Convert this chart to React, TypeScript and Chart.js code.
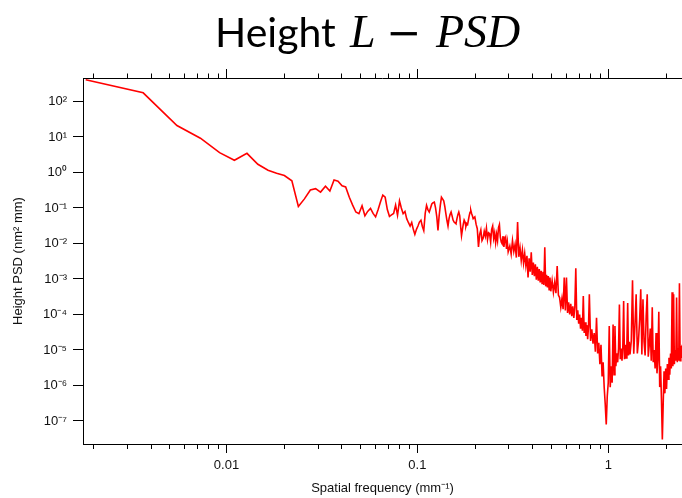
import { useEffect, useRef } from 'react';
import { Chart, registerables } from 'chart.js';

Chart.register(...registerables);

// ---- Data (spatial frequency in mm^-1, PSD in nm^2 mm) ----
const lowFreq = [0.00183, 0.00366, 0.0055, 0.0073, 0.0092, 0.011, 0.0128, 0.0146, 0.0165, 0.0183, 0.0201, 0.022, 0.0238, 0.0256, 0.0275, 0.0293, 0.0311, 0.033, 0.0348, 0.0366, 0.0384, 0.0403, 0.0421, 0.044, 0.0458, 0.0476, 0.0494, 0.0513, 0.0531, 0.0549, 0.0568, 0.0586, 0.0604, 0.0623, 0.0641, 0.0659, 0.0678, 0.0696, 0.0714, 0.0732, 0.0751, 0.0769, 0.0787, 0.0806, 0.0824, 0.0842, 0.0861, 0.0879, 0.0897, 0.0916, 0.0934, 0.0952, 0.097, 0.0989, 0.1007, 0.1025, 0.1044, 0.1062, 0.108, 0.1099, 0.1117, 0.1135, 0.1154, 0.1172, 0.119, 0.1209, 0.1227, 0.1245, 0.1264, 0.1282, 0.13, 0.1319, 0.1337, 0.1355, 0.1374, 0.1392, 0.141, 0.1428, 0.1447, 0.1465, 0.1483, 0.1502, 0.152, 0.1538, 0.1557, 0.1575, 0.1593, 0.1612, 0.163, 0.1648, 0.1667, 0.1685, 0.1703, 0.1722, 0.174, 0.1758, 0.1777, 0.1795, 0.1813, 0.1832, 0.185, 0.1868, 0.1887, 0.1905, 0.1923, 0.1942, 0.196];
const lowPsd = [410, 175, 21, 9.2, 3.6, 2.2, 3.45, 1.7, 1.15, 0.95, 0.82, 0.58, 0.11, 0.18, 0.32, 0.35, 0.28, 0.41, 0.30, 0.61, 0.57, 0.42, 0.39, 0.2, 0.12, 0.077, 0.069, 0.115, 0.06, 0.08, 0.097, 0.07, 0.056, 0.09, 0.15, 0.23, 0.2, 0.09, 0.058, 0.064, 0.07, 0.12, 0.062, 0.158, 0.1, 0.069, 0.08, 0.05, 0.039, 0.031, 0.039, 0.025, 0.018, 0.025, 0.031, 0.04, 0.045, 0.03, 0.023, 0.07, 0.118, 0.09, 0.077, 0.1, 0.13, 0.14, 0.146, 0.1, 0.056, 0.0234, 0.06, 0.12, 0.2, 0.18, 0.16, 0.11, 0.069, 0.045, 0.031, 0.05, 0.065, 0.077, 0.06, 0.0455, 0.04, 0.038, 0.036, 0.05, 0.065, 0.077, 0.06, 0.03, 0.0167, 0.025, 0.035, 0.0455, 0.04, 0.03, 0.036, 0.034, 0.045, 0.06, 0.075, 0.0857, 0.07, 0.06, 0.05];

const midFreq = [0.200, 0.203, 0.206, 0.209, 0.212, 0.215, 0.218, 0.221, 0.224, 0.227, 0.230, 0.233, 0.236, 0.239, 0.242, 0.245, 0.248, 0.251, 0.254, 0.257, 0.260, 0.263, 0.266, 0.269, 0.272, 0.275, 0.278, 0.281, 0.284, 0.287, 0.290, 0.293, 0.296, 0.299,
  0.305, 0.310, 0.315, 0.320, 0.325, 0.330, 0.335, 0.340, 0.345, 0.350, 0.355, 0.360, 0.365, 0.370, 0.375, 0.380, 0.385, 0.390, 0.395, 0.400, 0.405, 0.410, 0.415, 0.420, 0.425, 0.430, 0.435, 0.440, 0.445, 0.450, 0.455, 0.460, 0.465, 0.470, 0.475, 0.480, 0.485, 0.490, 0.495, 0.500];
const midPsd = [0.056, 0.035, 0.026, 0.008, 0.018, 0.024, 0.012, 0.014, 0.022, 0.016, 0.027, 0.013, 0.02, 0.019, 0.011, 0.025, 0.031, 0.014, 0.02, 0.0105, 0.018, 0.012, 0.028, 0.034, 0.015, 0.011, 0.0098, 0.016, 0.008, 0.013, 0.0149, 0.007, 0.011, 0.0058,
  0.0085, 0.005, 0.012, 0.006, 0.0095, 0.004, 0.04, 0.0042, 0.0075, 0.0033, 0.0065, 0.0028, 0.0052, 0.0024, 0.0045, 0.0011, 0.0038, 0.0016, 0.0056, 0.0013, 0.0029, 0.0012, 0.0026, 0.00095, 0.0022, 0.0009, 0.0019, 0.0008, 0.0017, 0.00075, 0.0016, 0.00068, 0.0078, 0.00062, 0.0013, 0.00058, 0.0012, 0.0005, 0.0011, 0.00045];

const highFreq = [0.508, 0.516, 0.524, 0.532, 0.540, 0.548, 0.556, 0.564, 0.572, 0.580, 0.588, 0.596, 0.604, 0.612, 0.620, 0.628, 0.636, 0.644, 0.652, 0.660, 0.668, 0.676, 0.684, 0.692, 0.700, 0.708, 0.716, 0.724, 0.732, 0.740, 0.748, 0.756, 0.764, 0.772, 0.780, 0.788, 0.796,
  0.808, 0.820, 0.832, 0.844, 0.856, 0.868, 0.880, 0.892, 0.904, 0.916, 0.928, 0.940, 0.952, 0.964, 0.976, 0.988, 1.000, 1.012, 1.024, 1.036, 1.048, 1.060, 1.072, 1.084, 1.096, 1.108, 1.120, 1.132, 1.144, 1.156, 1.168, 1.180, 1.192, 1.204, 1.216, 1.228, 1.240, 1.252, 1.264, 1.276, 1.288, 1.300,
  1.32, 1.34, 1.36, 1.38, 1.40, 1.42, 1.44, 1.46, 1.48, 1.50, 1.52, 1.54, 1.56, 1.58, 1.60, 1.62, 1.64, 1.66, 1.68, 1.70, 1.72, 1.74, 1.76, 1.78, 1.80, 1.82, 1.84, 1.86, 1.88, 1.90, 1.92, 1.94, 1.96, 1.98, 2.00, 2.02, 2.04, 2.06, 2.08, 2.10, 2.12, 2.14, 2.16, 2.18, 2.20, 2.22, 2.24, 2.26, 2.28, 2.30, 2.32, 2.34, 2.36, 2.38, 2.40, 2.42, 2.44];
const highPsd = [0.0009, 0.00042, 0.0008, 0.0004, 0.0023, 0.00035, 0.0003, 0.00016, 0.00028, 0.00014, 0.0011, 0.00013, 0.0011, 0.00011, 0.00022, 0.0001, 0.0002, 0.00009, 0.00017, 0.00008, 0.00016, 0.002, 0.00007, 0.00013, 0.000055, 0.0001, 0.00004, 0.00008, 0.000035, 0.00033, 0.00003, 0.00006, 0.000025, 0.00005, 0.00002, 0.000045, 0.00037,
  0.000018, 0.000038, 0.000015, 0.00003, 0.000009, 0.000081, 0.000008, 0.000016, 0.000004, 0.000014, 0.0000018, 0.0000045, 0.0000009, 0.0000003, 0.00000008, 0.0000005, 0.0000012, 0.000047, 0.0000009, 0.0000035, 0.0000012, 0.000052, 0.000002, 0.000047, 0.0000035, 0.000008, 0.0000045, 0.000011, 0.00019, 0.0000055, 0.000011, 0.000005, 0.000012, 0.00024, 0.0000055, 0.000014, 0.000006, 0.000015, 0.00021, 0.000007, 0.000017, 0.0000075,
  0.000018, 0.00092, 0.0000078, 0.00005, 0.00037, 0.000008, 0.000018, 0.00007, 0.00051, 0.0000075, 0.00027, 0.000017, 0.000007, 0.00009, 0.00037, 0.0000065, 0.000014, 0.00004, 0.000005, 0.00016, 0.0000045, 0.00001, 0.000003, 0.00003, 0.0000022, 0.000006, 0.00012, 0.0000009, 0.0000035, 0.0000004, 0.00000003, 0.0000003, 0.0000025, 0.0000006, 0.000003, 0.0000008, 0.000004, 0.0000015, 0.000006, 0.000002, 0.000008, 0.000003, 0.00042, 0.0000035, 0.00037, 0.000004, 0.00001, 0.000005, 0.0003, 0.0000045, 0.000011, 0.000005, 0.00076, 0.000005, 0.000013, 0.000006, 0.000014];

// ---- Axes / labels ----
const xTickValues = [0.002, 0.003, 0.004, 0.005, 0.006, 0.007, 0.008, 0.009, 0.01, 0.02, 0.03, 0.04, 0.05, 0.06, 0.07, 0.08, 0.09, 0.1, 0.2, 0.3, 0.4, 0.5, 0.6, 0.7, 0.8, 0.9, 1, 2];
const xMajorTicks = [0.01, 0.1, 1];
const xTickLabels = ['0.01', '0.1', '1'];
const yTickValues = [1e-7, 1e-6, 1e-5, 1e-4, 1e-3, 1e-2, 1e-1, 1, 10, 100];
const yTickLabels = ['10⁻⁷', '10⁻⁶', '10⁻⁵', '10⁻⁴', '10⁻³', '10⁻²', '10⁻¹', '10⁰', '10¹', '10²'];
const xAxisTitle = 'Spatial frequency (mm⁻¹)';
const yAxisTitle = 'Height PSD (nm² mm)';
const titleWord = 'Height';
const titleMath = ['L', '−', 'PSD'];

const isMajor = (v: number) => xMajorTicks.findIndex((m) => Math.abs(m - v) / m < 1e-6);

const decorPlugin = {
  id: 'decor',
  afterDraw(chart: any) {
    const { ctx, chartArea, scales } = chart;
    const xs = scales.x;
    ctx.save();
    ctx.strokeStyle = '#000';
    ctx.lineWidth = 1;
    ctx.beginPath();
    ctx.moveTo(chartArea.left, Math.round(chartArea.top) + 0.5);
    ctx.lineTo(chartArea.right, Math.round(chartArea.top) + 0.5);
    for (const v of xTickValues) {
      const px = Math.round(xs.getPixelForValue(v)) + 0.5;
      const major = isMajor(v) >= 0;
      ctx.moveTo(px, chartArea.bottom);
      ctx.lineTo(px, chartArea.bottom + (major ? 9 : 5));
      ctx.moveTo(px, chartArea.top);
      ctx.lineTo(px, chartArea.top - (major ? 9 : 4.5));
    }
    ctx.stroke();

    // Title: "Height L − PSD"
    ctx.fillStyle = '#000';
    ctx.textBaseline = 'alphabetic';
    ctx.textAlign = 'left';
    ctx.font = '41px Lato, "Open Sans", sans-serif';
    ctx.fillText(titleWord, 215, 47);
    ctx.font = 'italic 46px "Liberation Serif", "DejaVu Serif", serif';
    ctx.fillText(titleMath[0], 350, 47);
    ctx.font = '42px "DejaVu Serif", serif';
    ctx.fillText(titleMath[1], 386, 47);
    ctx.font = 'italic 46px "Liberation Serif", "DejaVu Serif", serif';
    ctx.fillText(titleMath[2], 436, 47);
    ctx.restore();
  },
};

export default function App() {
  const canvasRef = useRef<HTMLCanvasElement | null>(null);

  useEffect(() => {
    const canvas = canvasRef.current;
    if (!canvas) return;
    const allFreq = [...lowFreq, ...midFreq, ...highFreq];
    const allPsd = [...lowPsd, ...midPsd, ...highPsd];
    const n = Math.min(allFreq.length, allPsd.length);
    const points = [] as { x: number; y: number }[];
    for (let i = 0; i < n; i++) points.push({ x: allFreq[i], y: allPsd[i] });

    Chart.defaults.font.family = '"Liberation Sans", Arial, sans-serif';
    Chart.defaults.color = '#111';

    const chart = new Chart(canvas, {
      type: 'line',
      data: {
        datasets: [
          {
            data: points,
            borderColor: '#ff0000',
            borderWidth: 1.6,
            pointRadius: 0,
            tension: 0,
            fill: false,
          },
        ],
      },
      options: {
        animation: false,
        responsive: false,
        devicePixelRatio: 1,
        layout: { padding: { top: 78, right: 0, bottom: 0, left: 0 } },
        plugins: { legend: { display: false }, tooltip: { enabled: false }, title: { display: false } },
        scales: {
          x: {
            type: 'logarithmic',
            position: 'bottom',
            min: 0.001771,
            max: 2.434,
            bounds: 'data',
            afterBuildTicks: (scale: any) => {
              scale.ticks = xTickValues.map((v) => ({ value: v }));
            },
            afterFit: (scale: any) => {
              scale.height = 54;
            },
            grid: { display: true, drawOnChartArea: false, drawTicks: true, tickLength: 9, color: 'rgba(0,0,0,0)' },
            border: { display: true, color: '#000', width: 1 },
            ticks: {
              autoSkip: false,
              maxRotation: 0,
              minRotation: 0,
              padding: 5,
              font: { size: 13 },
              color: '#111',
              callback: (v: any) => {
                const i = isMajor(Number(v));
                return i >= 0 ? xTickLabels[i] : '';
              },
            },
            title: { display: true, text: xAxisTitle, font: { size: 13 }, color: '#111', padding: { top: 0, bottom: 2 } },
          },
          y: {
            type: 'logarithmic',
            position: 'left',
            min: 2.25e-8,
            max: 457,
            bounds: 'data',
            afterBuildTicks: (scale: any) => {
              scale.ticks = yTickValues.map((v) => ({ value: v }));
            },
            afterFit: (scale: any) => {
              scale.width = 83;
            },
            grid: { display: true, drawOnChartArea: false, drawTicks: true, tickLength: 10, color: '#000', lineWidth: 1 },
            border: { display: true, color: '#000', width: 1 },
            ticks: {
              autoSkip: false,
              padding: 6,
              font: { size: 13 },
              color: '#111',
              callback: (v: any) => {
                const i = yTickValues.findIndex((t) => Math.abs(t - Number(v)) / t < 1e-6);
                return i >= 0 ? yTickLabels[i] : '';
              },
            },
            title: { display: true, text: yAxisTitle, font: { size: 13 }, color: '#111', padding: { top: 11, bottom: 0 } },
          },
        },
      },
      plugins: [decorPlugin],
    } as any);

    return () => chart.destroy();
  }, []);

  return (
    <div style={{ position: 'fixed', left: 0, top: 0, width: 682, height: 498, background: '#fff' }}>
      <canvas ref={canvasRef} width={682} height={498} style={{ display: 'block', width: 682, height: 498 }} />
    </div>
  );
}
